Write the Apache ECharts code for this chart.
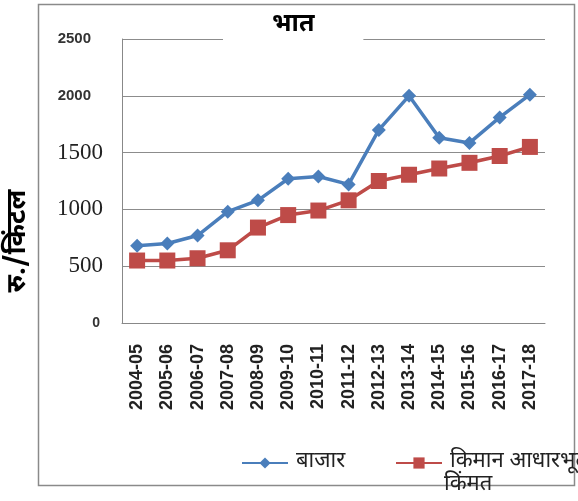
<!DOCTYPE html>
<html>
<head>
<meta charset="utf-8">
<script src="https://cdn.jsdelivr.net/npm/echarts@6/dist/echarts.min.js"></script>
<style>html,body{margin:0;padding:0;background:#fff}#c{width:578px;height:501px}</style>
</head>
<body>
<div id="c"></div>
<script>
const categories = ['2004-05','2005-06','2006-07','2007-08','2008-09','2009-10','2010-11','2011-12','2012-13','2013-14','2014-15','2015-16','2016-17','2017-18'];
const marketValues = [680, 700, 770, 980, 1080, 1270, 1290, 1220, 1700, 2000, 1630, 1585, 1810, 2010];
const mspValues = [550, 550, 570, 640, 840, 950, 990, 1080, 1250, 1305, 1360, 1410, 1470, 1550];
const seriesNames = ['बाजार', 'किमान आधारभूत'];
const legendSecondLine = 'किंमत';
const chartTitle = 'भात';
const yAxisTitle = 'रु./किंटल';
const yTicks = [0, 500, 1000, 1500, 2000, 2500];

const DEV = "'Noto Sans Devanagari','Lohit Devanagari','Mukta','Noto Sans',sans-serif";
const legendText = {fontFamily: DEV, fontSize: 22, color: '#222', padding: [0, 0, 0, 3]};
const chart = echarts.init(document.getElementById('c'), null, {renderer: 'canvas'});
chart.setOption({
  animation: false,
  backgroundColor: '#fff',
  title: {
    text: chartTitle,
    left: 223, top: 11,
    padding: [3, 49, 2, 49],
    backgroundColor: '#fff',
    textStyle: {fontFamily: DEV, fontSize: 25, fontWeight: 'bold', color: '#000'}
  },
  grid: {left: 122, right: 33, top: 39, bottom: 178, containLabel: false},
  xAxis: {
    type: 'category',
    data: categories,
    boundaryGap: true,
    axisLine: {lineStyle: {color: '#888', width: 1}},
    axisTick: {show: false},
    axisLabel: {rotate: 90, margin: 21, fontFamily: 'Liberation Sans, Arial, sans-serif', fontWeight: 'bold', fontSize: 18, color: '#222', interval: 0}
  },
  yAxis: {
    type: 'value',
    min: yTicks[0], max: yTicks[yTicks.length - 1], interval: 500,
    axisLine: {show: true, lineStyle: {color: '#888', width: 1}},
    axisTick: {show: false},
    splitLine: {lineStyle: {color: '#8c8c8c', width: 1}},
    axisLabel: {
      margin: 19,
      formatter: v => v === 0 ? '{z|0}' : ((v === 500 || v === 1000 || v === 1500) ? '{s|' + v + '}' : '{b|' + v + '}'),
      rich: {
        s: {fontFamily: 'Liberation Serif, Times New Roman, serif', fontSize: 23, color: '#222'},
        b: {fontFamily: 'Liberation Sans, Arial, sans-serif', fontSize: 15, fontWeight: 'bold', color: '#333', padding: [0, 12, 0, 0]},
        z: {fontFamily: 'Liberation Sans, Arial, sans-serif', fontSize: 14, fontWeight: 'bold', color: '#333', padding: [0, 3, 0, 0]}
      }
    }
  },
  legend: [
    {left: 236, top: 447, itemWidth: 46, itemHeight: 14, data: [seriesNames[0]], textStyle: legendText},
    {left: 390, top: 447, itemWidth: 46, itemHeight: 14, data: [seriesNames[1]], textStyle: legendText}
  ],
  graphic: [
    {type: 'rect', left: 36, top: 2, shape: {width: 536, height: 481}, style: {fill: 'none', stroke: '#8a8a8a', lineWidth: 1.5}, z: -10},
    {type: 'text', x: 20, y: 241, rotation: Math.PI / 2, style: {text: yAxisTitle, font: "bold 27px " + DEV, fill: '#000', align: 'center', verticalAlign: 'middle'}},
    {type: 'text', x: 444, y: 475, style: {text: legendSecondLine, font: "22px " + DEV, fill: '#222', align: 'left', verticalAlign: 'top'}}
  ],
  series: [
    {
      name: seriesNames[0], type: 'line', data: marketValues,
      symbol: 'diamond', symbolSize: 14,
      itemStyle: {color: '#4a7ebb'},
      lineStyle: {color: '#4a7ebb', width: 3.5}
    },
    {
      name: seriesNames[1], type: 'line', data: mspValues,
      symbol: 'rect', symbolSize: 16,
      itemStyle: {color: '#be4b48'},
      lineStyle: {color: '#be4b48', width: 3.5}
    }
  ]
});
</script>
</body>
</html>
